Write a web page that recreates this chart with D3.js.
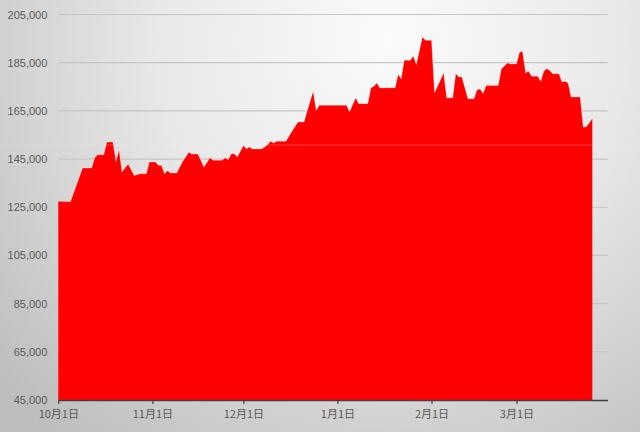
<!DOCTYPE html>
<html>
<head>
<meta charset="utf-8">
<script src="https://cdn.jsdelivr.net/npm/d3@7"></script>
<style>
html,body{margin:0;padding:0;background:#fff;}
svg{display:block;}
</style>
</head>
<body>
<svg id="chart" width="640" height="432"></svg>
<script>
const dates = ["2012-10-01","2012-10-05","2012-10-09","2012-10-12","2012-10-13","2012-10-14","2012-10-16","2012-10-17","2012-10-19","2012-10-20","2012-10-21","2012-10-22","2012-10-24","2012-10-26","2012-10-28","2012-10-30","2012-10-31","2012-11-02","2012-11-03","2012-11-04","2012-11-05","2012-11-06","2012-11-07","2012-11-09","2012-11-11","2012-11-13","2012-11-14","2012-11-16","2012-11-18","2012-11-20","2012-11-21","2012-11-24","2012-11-25","2012-11-26","2012-11-27","2012-11-28","2012-11-29","2012-12-01","2012-12-02","2012-12-03","2012-12-04","2012-12-07","2012-12-08","2012-12-09","2012-12-10","2012-12-11","2012-12-12","2012-12-15","2012-12-17","2012-12-19","2012-12-21","2012-12-22","2012-12-24","2012-12-25","2012-12-26","2013-01-04","2013-01-05","2013-01-07","2013-01-08","2013-01-11","2013-01-12","2013-01-13","2013-01-14","2013-01-15","2013-01-20","2013-01-21","2013-01-22","2013-01-23","2013-01-25","2013-01-26","2013-01-27","2013-01-29","2013-01-30","2013-02-01","2013-02-02","2013-02-04","2013-02-05","2013-02-06","2013-02-08","2013-02-09","2013-02-10","2013-02-11","2013-02-13","2013-02-15","2013-02-16","2013-02-17","2013-02-18","2013-02-19","2013-02-23","2013-02-24","2013-02-26","2013-02-27","2013-03-01","2013-03-02","2013-03-03","2013-03-04","2013-03-05","2013-03-06","2013-03-08","2013-03-09","2013-03-10","2013-03-11","2013-03-12","2013-03-13","2013-03-15","2013-03-16","2013-03-17","2013-03-18","2013-03-19","2013-03-22","2013-03-23","2013-03-24","2013-03-26"];
const values = [127500,127300,141300,141300,145500,146800,146800,152100,152100,144000,148900,139600,143000,138200,138900,138900,143800,143800,142400,142300,138900,140200,139200,139200,144000,147800,147100,147100,141700,145500,144500,144500,145500,144700,147200,147200,145900,150600,149300,150000,149200,149200,150000,151000,152400,151700,152400,152400,156500,160400,160400,164800,173100,165200,167300,167300,164600,170400,168000,168000,174500,175200,176600,174500,174600,180100,178300,186000,186000,187800,184200,195700,194300,194300,172500,178000,180800,170400,170400,180500,179100,179100,170000,170000,173800,174100,172200,175500,175500,182400,184900,184500,184500,189300,189700,180800,181400,179400,179400,177300,181400,182600,181700,180400,180400,177000,177300,176600,170800,170800,158300,158300,161800];
const yTicks = [45000,65000,85000,105000,125000,145000,165000,185000,205000];
const xTickDates = ["2012-10-01","2012-11-01","2012-12-01","2013-01-01","2013-02-01","2013-03-01"];
const xTickLabels = ["10月1日","11月1日","12月1日","1月1日","2月1日","3月1日"];
const xDomain = ["2012-10-01","2013-03-31"];

const parse = d3.timeParse("%Y-%m-%d");
const data = dates.map((d,i)=>({date:parse(d), value:values[i]}));

const svg = d3.select("#chart");
const W = 640, H = 432;
const mLeft = 58.3, mRight = 607.5, mTop = 14.5, mBottom = 400;

// background
const defs = svg.append("defs");
const rg = defs.append("radialGradient").attr("id","bg")
  .attr("gradientUnits","userSpaceOnUse")
  .attr("cx",390).attr("cy",40).attr("r",520);
rg.append("stop").attr("offset","0%").attr("stop-color","#fbfbfb");
rg.append("stop").attr("offset","45%").attr("stop-color","#e8e8e8");
rg.append("stop").attr("offset","100%").attr("stop-color","#bdbdbd");
svg.append("rect").attr("width",W).attr("height",H).attr("fill","url(#bg)");

const x = d3.scaleTime().domain(xDomain.map(parse)).range([mLeft, mRight]);
const y = d3.scaleLinear().domain([45000,205000]).range([mBottom, mTop]);

// gridlines
svg.append("g").attr("class","grid")
  .selectAll("line").data(yTicks.slice(1)).join("line")
  .attr("x1",mLeft).attr("x2",mRight)
  .attr("y1",d=>y(d)).attr("y2",d=>y(d))
  .attr("stroke","#c6c6c6").attr("stroke-width",1.2);

// area
const area = d3.area().x(d=>x(d.date)).y0(y(45000)).y1(d=>y(d.value));
svg.append("path").datum(data).attr("d",area).attr("fill","#ff0000");
const line = d3.line().x(d=>x(d.date)).y(d=>y(d.value));
svg.append("path").datum(data).attr("d",line).attr("fill","none")
  .attr("stroke","#ffffff").attr("stroke-opacity",0.35).attr("stroke-width",0.8);

// faint highlight band
svg.append("rect").attr("x",0).attr("y",144.5).attr("width",W).attr("height",1)
  .attr("fill","#ffffff").attr("opacity",0.22);

// y axis labels
const yAxis = d3.axisLeft(y).tickValues(yTicks).tickFormat(d3.format(",")).tickSize(0).tickPadding(0);
const gy = svg.append("g").attr("transform",`translate(${mLeft-11},0)`).call(yAxis);
gy.select(".domain").remove();
gy.selectAll("text").attr("fill","#595959").attr("font-size","11px")
  .attr("font-family","'Liberation Sans', Arial, sans-serif");

// x axis
const xAxis = d3.axisBottom(x).tickValues(xTickDates.map(parse))
  .tickFormat((d,i)=>xTickLabels[i]).tickSize(4).tickSizeOuter(0).tickPadding(6);
const gx = svg.append("g").attr("transform",`translate(0,${mBottom})`).call(xAxis);
gx.select(".domain").attr("stroke","#404040").attr("stroke-width",1.5);
gx.selectAll(".tick line").attr("stroke","#404040").attr("stroke-width",1.2);
gx.selectAll("text").attr("fill","#595959").attr("font-size","11px")
  .attr("font-family","'Noto Sans CJK JP', sans-serif");
</script>
</body>
</html>
